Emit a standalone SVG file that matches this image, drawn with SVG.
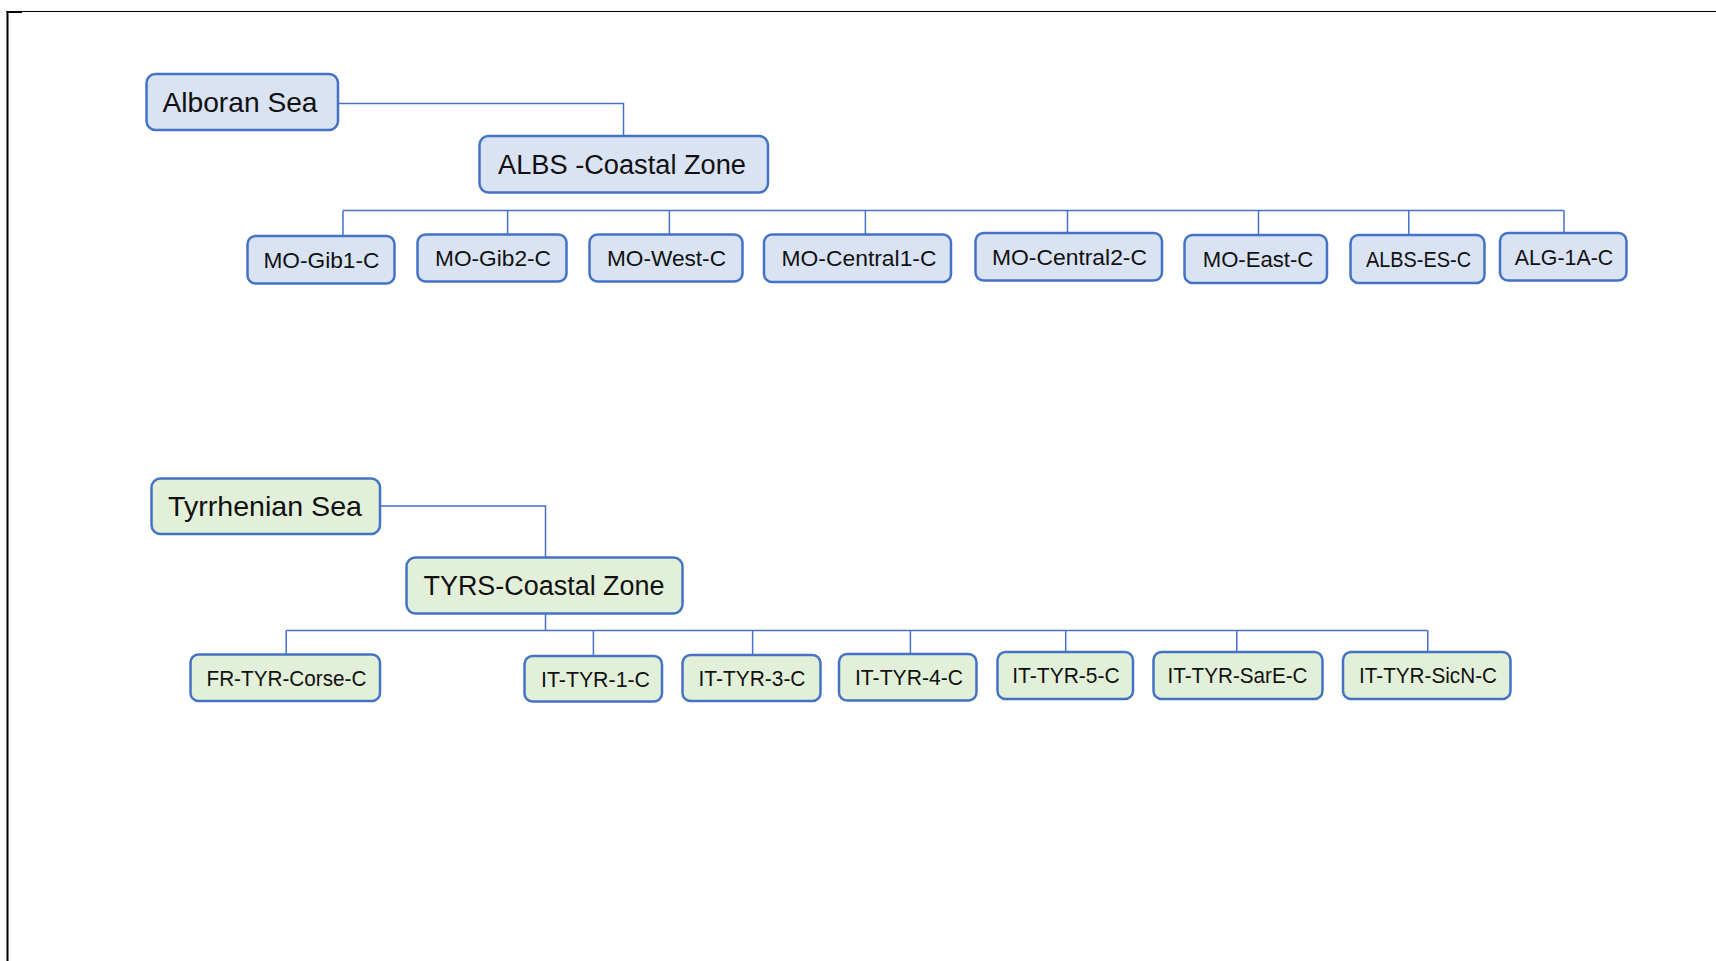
<svg xmlns="http://www.w3.org/2000/svg" width="1716" height="961" viewBox="0 0 1716 961">
  <style>
    .sea, .zone, .leaf { stroke: #4472C4; stroke-width: 2.5; }
    .alb { fill: #DAE3F3; }
    .tyr { fill: #E2F0D9; }
    text { font-family: "Liberation Sans", Arial, sans-serif; fill: #111; text-anchor: middle; }
    .t-sea { font-size: 28px; }
    .t-zone { font-size: 27px; }
    .t-leaf { font-size: 22px; }
    .link { fill: none; stroke: #4472C4; stroke-width: 1.5; }
    .frame { fill: none; stroke: #000; }
  </style>

  <rect width="1716" height="961" fill="#fff"/>

  <!-- page frame: left and top edges -->
  <g id="frame">
    <line class="frame" x1="7.5" y1="11" x2="7.5" y2="961" stroke-width="2"/>
    <line class="frame" x1="6.5" y1="12" x2="22" y2="12" stroke-width="2"/>
    <line class="frame" x1="22" y1="11.5" x2="1716" y2="11.5" stroke-width="1"/>
  </g>

  <!-- connectors -->
  <g id="connectors">
    <!-- Alboran Sea tree -->
    <polyline class="link" points="338,103.5 623.5,103.5 623.5,136"/>
    <line class="link" x1="343" y1="210.5" x2="1564" y2="210.5"/>
    <line class="link" x1="343" y1="210.5" x2="343" y2="236"/>
    <line class="link" x1="507.6" y1="210.5" x2="507.6" y2="234.5"/>
    <line class="link" x1="669.4" y1="210.5" x2="669.4" y2="234.5"/>
    <line class="link" x1="865.4" y1="210.5" x2="865.4" y2="234.5"/>
    <line class="link" x1="1067.5" y1="210.5" x2="1067.5" y2="233"/>
    <line class="link" x1="1258.5" y1="210.5" x2="1258.5" y2="235"/>
    <line class="link" x1="1408.8" y1="210.5" x2="1408.8" y2="235"/>
    <line class="link" x1="1564" y1="210.5" x2="1564" y2="233"/>

    <!-- Tyrrhenian Sea tree -->
    <polyline class="link" points="380,506 545.5,506 545.5,557.5"/>
    <line class="link" x1="545.5" y1="613.5" x2="545.5" y2="630.5"/>
    <line class="link" x1="286.2" y1="630.5" x2="1427.8" y2="630.5"/>
    <line class="link" x1="286.2" y1="630.5" x2="286.2" y2="654.5"/>
    <line class="link" x1="593.4" y1="630.5" x2="593.4" y2="656"/>
    <line class="link" x1="752.6" y1="630.5" x2="752.6" y2="655"/>
    <line class="link" x1="910.4" y1="630.5" x2="910.4" y2="654"/>
    <line class="link" x1="1065.7" y1="630.5" x2="1065.7" y2="652"/>
    <line class="link" x1="1236.8" y1="630.5" x2="1236.8" y2="652"/>
    <line class="link" x1="1427.8" y1="630.5" x2="1427.8" y2="652"/>
  </g>

  <!-- Alboran Sea -->
  <g id="alboran-sea">
    <rect class="sea alb" x="146.5" y="74" width="191.5" height="56" rx="9"/>
    <text class="t-sea" x="240" y="111.8" textLength="155" lengthAdjust="spacingAndGlyphs">Alboran Sea</text>
  </g>
  <g id="albs-coastal-zone">
    <rect class="zone alb" x="479.5" y="136" width="288.5" height="56.5" rx="9"/>
    <text class="t-zone" x="622" y="173.9" textLength="248" lengthAdjust="spacingAndGlyphs">ALBS -Coastal Zone</text>
  </g>
  <g id="mo-gib1-c">
    <rect class="leaf alb" x="247.5" y="236" width="147" height="47.5" rx="8"/>
    <text class="t-leaf" x="321.4" y="267.6" textLength="116" lengthAdjust="spacingAndGlyphs">MO-Gib1-C</text>
  </g>
  <g id="mo-gib2-c">
    <rect class="leaf alb" x="417.5" y="234.5" width="149" height="47" rx="8"/>
    <text class="t-leaf" x="493" y="265.9" textLength="116" lengthAdjust="spacingAndGlyphs">MO-Gib2-C</text>
  </g>
  <g id="mo-west-c">
    <rect class="leaf alb" x="589.5" y="234.5" width="153" height="47" rx="8"/>
    <text class="t-leaf" x="666.5" y="265.9" textLength="119" lengthAdjust="spacingAndGlyphs">MO-West-C</text>
  </g>
  <g id="mo-central1-c">
    <rect class="leaf alb" x="764" y="234.5" width="187" height="47.5" rx="8"/>
    <text class="t-leaf" x="859" y="266.1" textLength="155" lengthAdjust="spacingAndGlyphs">MO-Central1-C</text>
  </g>
  <g id="mo-central2-c">
    <rect class="leaf alb" x="975.5" y="233" width="186.5" height="47.5" rx="8"/>
    <text class="t-leaf" x="1069.5" y="264.6" textLength="155" lengthAdjust="spacingAndGlyphs">MO-Central2-C</text>
  </g>
  <g id="mo-east-c">
    <rect class="leaf alb" x="1184.5" y="235" width="142.5" height="48" rx="8"/>
    <text class="t-leaf" x="1258" y="266.9" textLength="110.5" lengthAdjust="spacingAndGlyphs">MO-East-C</text>
  </g>
  <g id="albs-es-c">
    <rect class="leaf alb" x="1350.5" y="235" width="134" height="48" rx="8"/>
    <text class="t-leaf" x="1418.5" y="266.9" textLength="105" lengthAdjust="spacingAndGlyphs">ALBS-ES-C</text>
  </g>
  <g id="alg-1a-c">
    <rect class="leaf alb" x="1500" y="233" width="126.5" height="47.5" rx="8"/>
    <text class="t-leaf" x="1564" y="264.6" textLength="98.5" lengthAdjust="spacingAndGlyphs">ALG-1A-C</text>
  </g>

  <!-- Tyrrhenian Sea -->
  <g id="tyrrhenian-sea">
    <rect class="sea tyr" x="151.5" y="478.5" width="228.5" height="55.5" rx="9"/>
    <text class="t-sea" x="265" y="516.2" textLength="194" lengthAdjust="spacingAndGlyphs">Tyrrhenian Sea</text>
  </g>
  <g id="tyrs-coastal-zone">
    <rect class="zone tyr" x="406.5" y="557.5" width="276" height="56" rx="9"/>
    <text class="t-zone" x="544" y="595.2" textLength="241" lengthAdjust="spacingAndGlyphs">TYRS-Coastal Zone</text>
  </g>
  <g id="fr-tyr-corse-c">
    <rect class="leaf tyr" x="190.5" y="654.5" width="189.5" height="46.5" rx="8"/>
    <text class="t-leaf" x="286.5" y="685.6" textLength="160" lengthAdjust="spacingAndGlyphs">FR-TYR-Corse-C</text>
  </g>
  <g id="it-tyr-1-c">
    <rect class="leaf tyr" x="524.5" y="656" width="137.5" height="45.5" rx="8"/>
    <text class="t-leaf" x="595.5" y="686.6" textLength="109" lengthAdjust="spacingAndGlyphs">IT-TYR-1-C</text>
  </g>
  <g id="it-tyr-3-c">
    <rect class="leaf tyr" x="682.5" y="655" width="138" height="46" rx="8"/>
    <text class="t-leaf" x="752" y="685.9" textLength="107" lengthAdjust="spacingAndGlyphs">IT-TYR-3-C</text>
  </g>
  <g id="it-tyr-4-c">
    <rect class="leaf tyr" x="839" y="654" width="137.5" height="46.5" rx="8"/>
    <text class="t-leaf" x="909" y="685.1" textLength="108" lengthAdjust="spacingAndGlyphs">IT-TYR-4-C</text>
  </g>
  <g id="it-tyr-5-c">
    <rect class="leaf tyr" x="997.5" y="652" width="135.5" height="47" rx="8"/>
    <text class="t-leaf" x="1066" y="683.4" textLength="107.5" lengthAdjust="spacingAndGlyphs">IT-TYR-5-C</text>
  </g>
  <g id="it-tyr-sare-c">
    <rect class="leaf tyr" x="1153.5" y="652" width="169" height="47" rx="8"/>
    <text class="t-leaf" x="1237.5" y="683.4" textLength="140" lengthAdjust="spacingAndGlyphs">IT-TYR-SarE-C</text>
  </g>
  <g id="it-tyr-sicn-c">
    <rect class="leaf tyr" x="1343" y="652" width="167.5" height="47" rx="8"/>
    <text class="t-leaf" x="1428" y="683.4" textLength="138" lengthAdjust="spacingAndGlyphs">IT-TYR-SicN-C</text>
  </g>
</svg>
